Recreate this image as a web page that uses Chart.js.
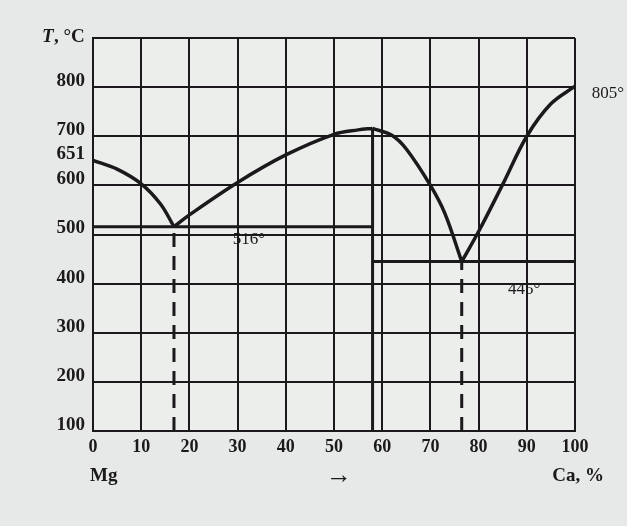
<!DOCTYPE html>
<html>
<head>
<meta charset="utf-8">
<script src="https://cdn.jsdelivr.net/npm/chart.js@4.4.1/dist/chart.umd.min.js"></script>
<style>
  html, body { margin: 0; padding: 0; background: #e6e9e7; }
  #wrap { width: 627px; height: 526px; }
</style>
</head>
<body>
<div id="wrap"><canvas id="phaseChart" width="627" height="526"></canvas></div>
<script>
// Mg - Ca phase diagram
const xTicks = [0, 10, 20, 30, 40, 50, 60, 70, 80, 90, 100];
const yTicks = [100, 200, 300, 400, 500, 600, 700, 800, 900];
const extraYTick = 651;

// liquidus, Mg side down to first eutectic
const liqMgX = [0, 5, 10, 14, 16.8];
const liqMgT = [651, 633, 603, 562, 516];
// eutectic up to the Mg2Ca maximum
const liqCmpX = [16.8, 20, 30, 40, 50, 55, 58];
const liqCmpT = [516, 540, 606, 662, 704, 713, 716];
// maximum down to second eutectic
const liqCmp2X = [58, 62, 65, 70, 73, 76.5];
const liqCmp2T = [716, 702, 674, 600, 543, 445];
// second eutectic up to Ca
const liqCaX = [76.5, 80, 85, 90, 95, 100];
const liqCaT = [445, 506, 602, 700, 766, 802];

// horizontal and vertical lines
const eut1X = [0, 58];
const eut1T = [516, 516];
const eut2X = [58, 100];
const eut2T = [445, 445];
const cmpX = [58, 58];
const cmpT = [100, 716];
const dash1X = [16.8, 16.8];
const dash1T = [100, 516];
const dash2X = [76.5, 76.5];
const dash2T = [100, 445];

// text written on the plot
const notes = [
  { text: '516°', x: 29, t: 489 },
  { text: '445°', x: 86.1, t: 387 },
  { text: '805°', x: 103.5, t: 786 }
];

const ink = '#1b191b';
const serif = '"Liberation Serif", "DejaVu Serif", serif';

function pts(xs, ts) {
  return xs.map((x, i) => ({ x: x, y: ts[i] }));
}

function curve(xs, ts) {
  return {
    data: pts(xs, ts),
    showLine: true,
    borderColor: ink,
    borderWidth: 3.5,
    pointRadius: 0,
    tension: 0.35
  };
}

function straight(xs, ts, dash) {
  return {
    data: pts(xs, ts),
    showLine: true,
    borderColor: ink,
    borderWidth: 3,
    pointRadius: 0,
    tension: 0,
    borderDash: dash || []
  };
}

const paperPlugin = {
  id: 'paper',
  beforeDraw(chart) {
    const c = chart.ctx;
    c.save();
    c.fillStyle = '#e6e9e7';
    c.fillRect(0, 0, chart.width, chart.height);
    const a = chart.chartArea;
    c.fillStyle = '#eceeec';
    c.fillRect(a.left, a.top, a.right - a.left, a.bottom - a.top);
    c.restore();
  }
};

const textPlugin = {
  id: 'texts',
  afterDraw(chart) {
    const c = chart.ctx;
    const xs = chart.scales.x;
    const ys = chart.scales.y;
    c.save();
    c.fillStyle = ink;
    c.textBaseline = 'middle';

    c.font = '17px ' + serif;
    c.textAlign = 'left';
    notes.forEach(n => {
      c.fillText(n.text, xs.getPixelForValue(n.x), ys.getPixelForValue(n.t));
    });

    // axis captions
    c.font = 'italic bold 19px ' + serif;
    c.fillText('T', 42, 37);
    c.font = 'bold 19px ' + serif;
    c.fillText(', °C', 54, 37);

    c.fillText('Mg', 90, 476);
    c.textAlign = 'right';
    c.fillText('Ca, %', 604, 476);

    c.font = '26px ' + serif;
    c.textAlign = 'left';
    c.fillText('→', 326, 476);
    c.restore();
  }
};

const ctx = document.getElementById('phaseChart').getContext('2d');

new Chart(ctx, {
  type: 'scatter',
  data: {
    datasets: [
      curve(liqMgX, liqMgT),
      curve(liqCmpX, liqCmpT),
      curve(liqCmp2X, liqCmp2T),
      curve(liqCaX, liqCaT),
      straight(eut1X, eut1T),
      straight(eut2X, eut2T),
      straight(cmpX, cmpT),
      straight(dash1X, dash1T, [14, 9]),
      straight(dash2X, dash2T, [14, 9])
    ]
  },
  options: {
    responsive: false,
    animation: false,
    layout: { padding: { left: 0, top: 38, right: 52, bottom: 0 } },
    plugins: {
      legend: { display: false },
      tooltip: { enabled: false }
    },
    scales: {
      x: {
        type: 'linear',
        min: 0,
        max: 100,
        afterBuildTicks: scale => { scale.ticks = xTicks.map(v => ({ value: v })); },
        afterFit: scale => { scale.height = 95; },
        grid: { color: ink, lineWidth: 2, drawTicks: false },
        border: { color: ink, width: 2 },
        ticks: {
          color: ink,
          padding: 6,
          font: { family: serif, size: 18, weight: 'bold' }
        }
      },
      y: {
        type: 'linear',
        min: 100,
        max: 900,
        afterBuildTicks: scale => {
          scale.ticks = yTicks.concat([extraYTick]).sort((a, b) => a - b).map(v => ({ value: v }));
        },
        afterFit: scale => { scale.width = 93; },
        grid: {
          color: c => (c.tick && c.tick.value === extraYTick ? 'rgba(0,0,0,0)' : ink),
          lineWidth: 2,
          drawTicks: false
        },
        border: { color: ink, width: 2 },
        ticks: {
          color: ink,
          padding: 8,
          labelOffset: -6,
          font: { family: serif, size: 19, weight: 'bold' },
          callback: v => (v === 900 ? '' : String(v))
        }
      }
    }
  },
  plugins: [paperPlugin, textPlugin]
});
</script>
</body>
</html>
